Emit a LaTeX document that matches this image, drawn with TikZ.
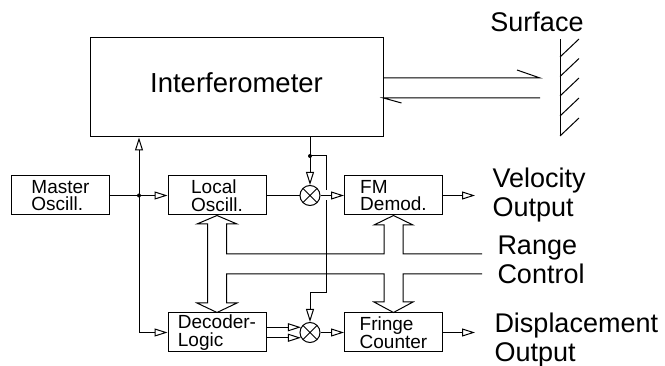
\documentclass[tikz,border=0pt]{standalone}
\usepackage{fontspec}
\setmainfont{Liberation Sans}
\usetikzlibrary{arrows.meta,calc}

\newcommand{\blockfont}{\fontsize{19}{17.5}\selectfont\lineskiplimit=-10pt}
\newcommand{\labelfont}{\fontsize{27}{29}\selectfont}

\begin{document}
\begin{tikzpicture}[x=1pt, y=-1pt, line width=1pt,
  >={Triangle[open, length=13pt, width=8pt]},
  block/.style={draw, minimum width=98pt, minimum height=39pt, inner sep=0pt,
    align=left, font=\blockfont},
  mixer/.style={draw, circle, minimum size=20pt, inner sep=0pt,
    path picture={\draw[line width=0.8pt]
      (path picture bounding box.north west) -- (path picture bounding box.south east)
      (path picture bounding box.north east) -- (path picture bounding box.south west);}},
  dot/.style={circle, fill, inner sep=0pt, minimum size=4pt},
  outtext/.style={anchor=north west, inner sep=0pt, align=left, font=\labelfont}]

  \useasboundingbox (0,0) rectangle (665,366);

  % Interferometer and the blocks below it
  \node[draw, minimum width=293pt, minimum height=99pt, inner sep=0pt,
    font=\fontsize{27.5}{30}\selectfont, text depth=9pt] (ifm) at (236.5,87.5) {Interferometer};
  \node[block] (mo) at (60.5,195.5) {Master\\Oscill.};
  \node[block] (lo) at (217,195.5) {Local\\Oscill.};
  \node[block] (fm) at (393.5,195.5) {FM\\Demod.};
  \node[block] (dl) at (217,332.5) {Decoder-\\Logic};
  \node[block] (fc) at (393.5,332.5) {Fringe\\Counter};

  % Mixers
  \node[mixer] (mx1) at (310,195.5) {};
  \node[mixer] (mx2) at (310,332.5) {};

  % Texts on the right
  \node[anchor=north, inner sep=0pt, font=\labelfont] (surf) at (537,11.3) {Surface};
  \node[outtext] (vel) at (492,167.3) {Velocity\\Output};
  \node[outtext] (rng) at (497,235.5) {Range\\Control};
  \node[outtext] (dsp) at (494,312.5) {Displacement\\Output};

  % Master oscillator distribution
  \coordinate (j1) at (139,195.5);
  \draw[->] (mo) -- (lo);
  \draw[->] (j1) -- (j1 |- ifm.south);
  \draw[->] (j1) |- (dl.west);
  \node[dot] (d1) at (j1) {};

  % Interferometer signal to both mixers
  \coordinate (j2) at (310,156);
  \coordinate (bend) at (326,293);
  \draw (lo) -- (mx1);
  \draw[->] (mx1 |- ifm.south) -- (mx1);
  \draw (j2) -| ($(bend |- mx1.east)+(0,-5)$);
  \draw[->] ($(bend |- mx1.east)+(0,5)$) -- (bend) -| (mx2);
  \node[dot] (d2) at (j2) {};
  \draw[->] (mx1) -- (fm);

  % Decoder outputs into lower mixer
  \draw[->] (dl.east |- mx2.150) -- (mx2.150);
  \draw[->] (dl.east |- mx2.210) -- (mx2.210);
  \draw[->] (mx2) -- (fc);

  % Outputs
  \coordinate (vout) at (475,195.5);
  \coordinate (dout) at (475,332.5);
  \draw[->] (fm) -- (vout);
  \draw[->] (fc) -- (dout);

  % Range control bus with double arrows
  \coordinate (rc1) at (482,254);
  \coordinate (rc2) at (482,274);
  \draw (rc1) -- (403,254) -- (403,225) -- (413,225) -- (fm.south) -- (374,225)
    -- (384,225) -- (384,254) -- (226.5,254) -- (226.5,224) -- (237,224) -- (lo.south)
    -- (197,224) -- (207.5,224) -- (207.5,303) -- (197,303) -- (dl.north) -- (237,303)
    -- (226.5,303) -- (226.5,274) -- (384,274) -- (384,302) -- (374,302) -- (fc.north)
    -- (413,302) -- (403,302) -- (403,274) -- (rc2);

  % Beams to the surface
  \coordinate (b1) at (540,78);
  \coordinate (b2) at (540,98);
  \draw (ifm.east |- b1) -- (b1) -- ++(-23,-8);
  \draw (b2) -- (ifm.east |- b2) -- ++(18,5);

  % Surface wall with hatching
  \draw (560,39) -- (560,136);
  \foreach \y in {57,76.5,96,116,136}
    \draw (560,\y) -- ++(19,-18);

\end{tikzpicture}
\end{document}
